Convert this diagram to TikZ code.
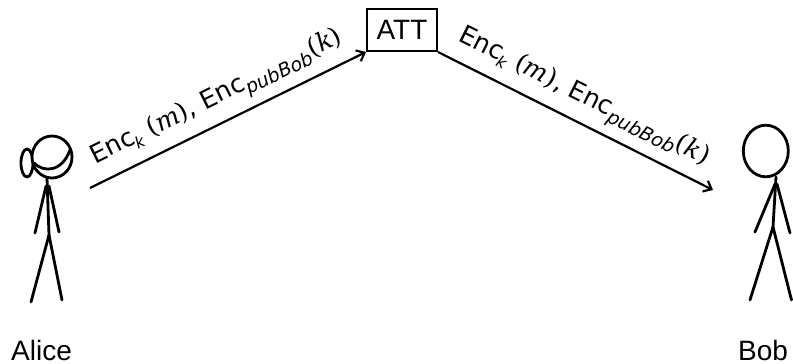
\documentclass[tikz,border=0pt]{standalone}
\usepackage{fontspec}
\setmainfont{Liberation Sans}
\newfontfamily\encfont{DejaVu Sans}
\newfontfamily\varfont{DejaVu Serif}
\usetikzlibrary{positioning,arrows.meta}

\newcommand{\encarg}[1]{{\varfont(\textit{#1})}}
\newcommand{\encsub}[2]{\raisebox{-6pt}{\fontsize{#1}{#1}\selectfont\itshape #2}}
\newcommand{\encmsg}{Enc\kern-1.5pt\encsub{16}{k} \encarg{m}, Enc\encsub{19}{pubBob}\encarg{k}}

\begin{document}
\begin{tikzpicture}[x=1pt,y=-1pt]
    \tikzstyle{every node}=[inner sep=0]
    \tikzstyle{person}=[line width=2.8pt,line cap=round,line join=round]
    \tikzstyle{personname}=[font=\fontsize{28}{30}\selectfont,anchor=base]
    \tikzstyle{attbox}=[draw,line width=2pt,minimum width=70pt,minimum height=42pt,font=\fontsize{28}{30}\selectfont]
    \tikzstyle{msg}=[line width=2.2pt,-{Straight Barb[length=7pt,width=12pt]}]
    \tikzstyle{msglabel}=[font=\encfont\fontsize{25.5}{28}\selectfont,sloped,above=8pt]

    \useasboundingbox (0,0) rectangle (793,364);

    % Alice
    \draw[person] (27,163) ellipse [x radius=6, y radius=14];
    \draw[person,fill=white] (52,157) ellipse [x radius=20, y radius=21];
    \draw[person] (34,163) .. controls (44,173) and (62,172) .. (70,150);
    \draw[person] (47,178) -- (49,235);
    \draw[person] (46,186) -- (35,233);
    \draw[person] (49,186) -- (59,232);
    \draw[person] (49,235) -- (31,302);
    \draw[person] (49,235) -- (62,300);
    \node[personname] (alice) at (41.5,360) {Alice};

    % Bob
    \draw[person] (765.8,151) ellipse [x radius=22.5, y radius=25.8];
    \draw[person] (776,177) -- (773,227);
    \draw[person] (775,184) -- (755,232);
    \draw[person] (777,184) -- (790,233);
    \draw[person] (773,227) -- (750,300);
    \draw[person] (773,227) -- (791.5,300);
    \node[personname] (bob) at (763,360) {Bob};

    % attacker in the middle
    \node[attbox] (att) at (402,30) {ATT};
    \coordinate (alicesend) at (90,188);
    \coordinate (bobrecv) at (713,190);

    \draw[msg] (alicesend) -- (att.south west)
        node[msglabel,pos=0.5] (msgone) {\encmsg};
    \draw[msg] (att.south east) -- (bobrecv)
        node[msglabel,pos=0.49] (msgtwo) {\encmsg};
\end{tikzpicture}
\end{document}
